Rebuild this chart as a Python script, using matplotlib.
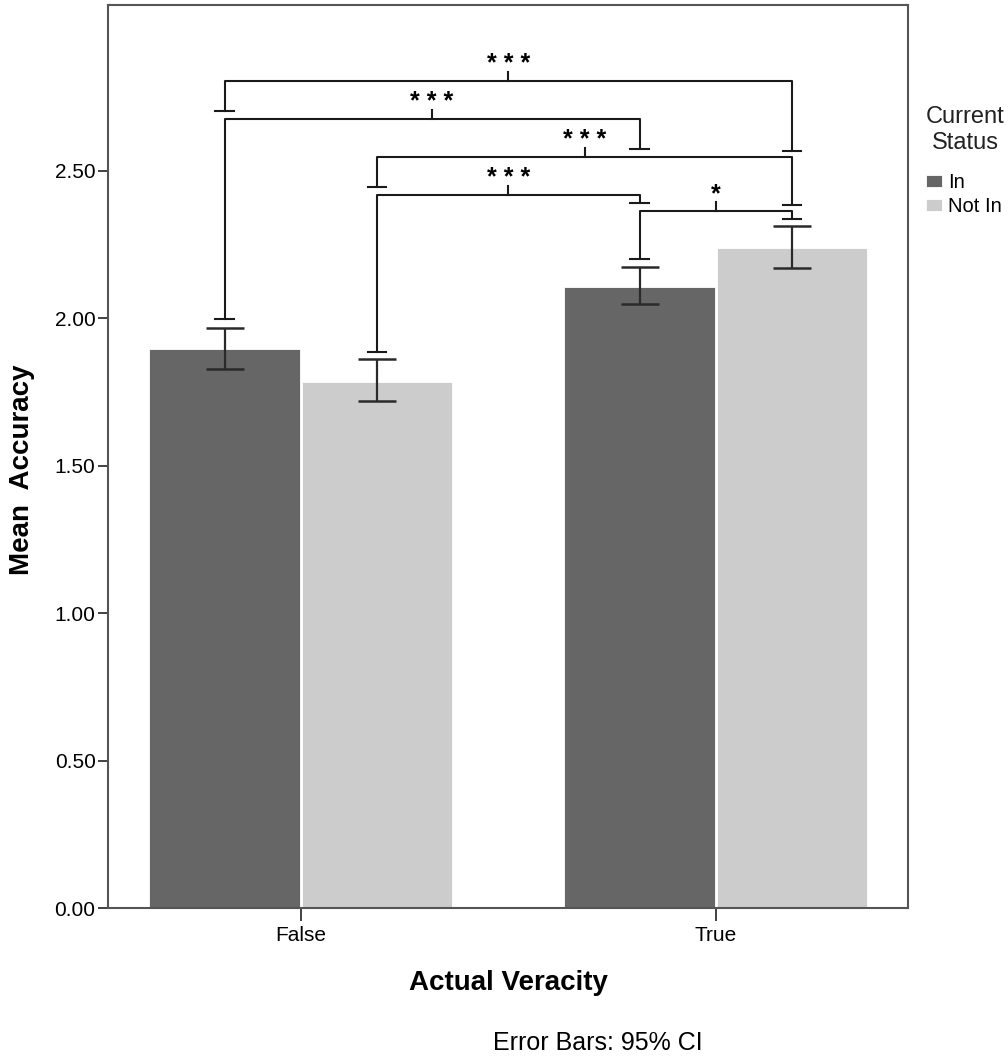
import numpy as np
import matplotlib.pyplot as plt

plt.rcParams['font.family'] = ['Liberation Sans', 'DejaVu Sans']

# data
kategori = ['False', 'True']
status = ['In', 'Not In']
warna = ['#666666', '#cccccc']
rata_in = [1.895, 2.105]
rata_notin = [1.785, 2.238]
ci_in_bawah = [1.828, 2.049]
ci_in_atas = [1.966, 2.173]
ci_notin_bawah = [1.720, 2.172]
ci_notin_atas = [1.861, 2.313]

# significance brackets: bar index 0=False/In 1=False/Not In 2=True/In 3=True/Not In
pasangan = [(0, 3), (0, 2), (1, 3), (1, 2), (2, 3)]
tinggi_kurung = [2.805, 2.676, 2.547, 2.419, 2.364]
ujung_kiri = [2.704, 1.998, 2.446, 1.886, 2.201]
ujung_kanan = [2.568, 2.575, 2.385, 2.392, 2.337]
label_sig = ['* * *', '* * *', '* * *', '* * *', '*']

fig = plt.figure(figsize=(10.08, 10.57), dpi=100)
ax = fig.add_axes([108 / 1008, 1 - 908 / 1057, 800 / 1008, 903 / 1057])

x = np.arange(len(kategori))
lebar = 0.362
geser = 0.184
pos_in = x - geser
pos_notin = x + geser

ax.bar(pos_in, rata_in, lebar, color=warna[0], edgecolor='white', linewidth=0.6, label=status[0], zorder=2)
ax.bar(pos_notin, rata_notin, lebar, color=warna[1], edgecolor='white', linewidth=0.6, label=status[1], zorder=2)

for pos, m, lo, hi in [(pos_in, rata_in, ci_in_bawah, ci_in_atas),
                       (pos_notin, rata_notin, ci_notin_bawah, ci_notin_atas)]:
    m = np.array(m)
    err = [m - np.array(lo), np.array(hi) - m]
    ax.errorbar(pos, m, yerr=err, fmt='none', ecolor='#2a2a2a', elinewidth=1.6,
                capsize=13.7, capthick=1.8, zorder=3)

# brackets
pusat_bar = [pos_in[0], pos_notin[0], pos_in[1], pos_notin[1]]
cap = 0.022
for (a, b), h, yl, yr, lab in zip(pasangan, tinggi_kurung, ujung_kiri, ujung_kanan, label_sig):
    xa, xb = pusat_bar[a], pusat_bar[b]
    ax.plot([xa, xa, xb, xb], [yl, h, h, yr], color='#1a1a1a', lw=1.5, zorder=4)
    ax.plot([xa - cap, xa + cap], [yl, yl], color='#1a1a1a', lw=1.5, zorder=4)
    ax.plot([xb - cap, xb + cap], [yr, yr], color='#1a1a1a', lw=1.5, zorder=4)
    xm = (xa + xb) / 2
    ax.plot([xm, xm], [h, h + 0.03], color='#1a1a1a', lw=1.5, zorder=4)
    ax.text(xm, h + 0.033, lab, ha='center', va='baseline', fontsize=18, fontweight='bold')

ax.set_xlim(-0.465, 1.463)
ax.set_ylim(0, 3.063)
ax.set_xticks(x)
ax.set_xticklabels(kategori, fontsize=15)
ax.set_yticks([0, 0.5, 1.0, 1.5, 2.0, 2.5])
ax.set_yticklabels(['0.00', '0.50', '1.00', '1.50', '2.00', '2.50'], fontsize=15)
ax.tick_params(axis='y', length=7, width=1.3, color='#333333', pad=2)
ax.tick_params(axis='x', length=9, width=1.3, color='#333333', pad=4)
for s in ax.spines.values():
    s.set_color('#555555')
    s.set_linewidth(1.5)

ax.set_ylabel('Mean  Accuracy', fontsize=20, fontweight='bold')
ax.yaxis.set_label_coords(-0.108, 0.485)
ax.yaxis.label.set_va('center')
ax.set_xlabel('Actual Veracity', fontsize=20, fontweight='bold')
ax.xaxis.set_label_coords(0.5, (908 - 983) / 903)
ax.xaxis.label.set_va('center')

fig.text(598 / 1008, 1 - 1043 / 1057, 'Error Bars: 95% CI', ha='center', va='center', fontsize=18)

# legend
fig.text(965 / 1008, 1 - 117 / 1057, 'Current', ha='center', va='center', fontsize=17, color='#222222')
fig.text(965 / 1008, 1 - 143 / 1057, 'Status', ha='center', va='center', fontsize=17, color='#222222')
leg = fig.legend(loc='upper left', bbox_to_anchor=(926 / 1008, 1 - 173 / 1057), frameon=False,
                 fontsize=14.5, handlelength=0.8, handleheight=0.6, handletextpad=0.3,
                 labelspacing=0.25, borderaxespad=0, borderpad=0)

fig.savefig('out.png', dpi=100)
